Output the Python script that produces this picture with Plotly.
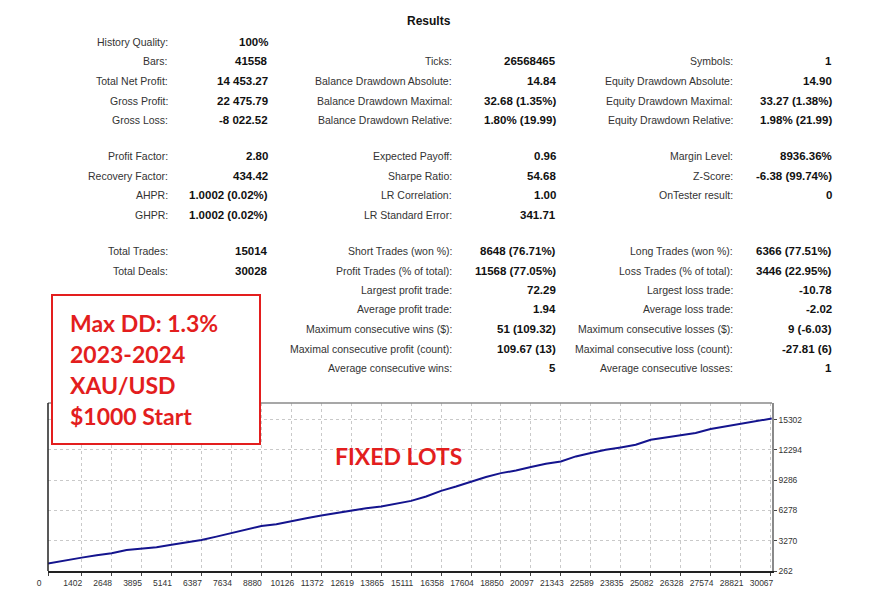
import plotly.graph_objects as go

# Balance curve (deal number -> balance)
deals = [0, 701, 1402, 2025, 2648, 3272, 3895, 4518, 5141, 5764, 6387, 7010, 7634,
         8257, 8880, 9503, 10126, 10749, 11372, 11996, 12619, 13242, 13865, 14488,
         15111, 15735, 16358, 16981, 17604, 18227, 18850, 19474, 20097, 20720,
         21343, 21966, 22589, 23212, 23835, 24459, 25082, 25705, 26328, 26951,
         27574, 28198, 28821, 29444, 30067, 30120]
balance = [1000, 1330, 1590, 1830, 2025, 2350, 2480, 2620, 2880, 3080, 3350, 3680, 4020,
           4350, 4740, 4910, 5240, 5510, 5770, 6010, 6270, 6510, 6670, 6935,
           7230, 7665, 8230, 8660, 9160, 9600, 9990, 10250, 10590, 10920,
           11150, 11650, 11980, 12310, 12545, 12810, 13310, 13540, 13810, 13980,
           14380, 14635, 14830, 15130, 15330, 15420]

x_ticks = [0, 1402, 2648, 3895, 5141, 6387, 7634, 8880, 10126, 11372, 12619, 13865,
           15111, 16358, 17604, 18850, 20097, 21343, 22589, 23835, 25082, 26328,
           27574, 28821, 30067]
y_ticks = [262, 3270, 6278, 9286, 12294, 15302]

# Results table, three columns of label/value pairs ("" = empty row)
col1_labels = ["History Quality:", "Bars:", "Total Net Profit:", "Gross Profit:", "Gross Loss:",
               "Profit Factor:", "Recovery Factor:", "AHPR:", "GHPR:", "",
               "Total Trades:", "Total Deals:", "", "", "", "", ""]
col1_values = ["100%", "41558", "14 453.27", "22 475.79", "-8 022.52",
               "2.80", "434.42", "1.0002 (0.02%)", "1.0002 (0.02%)", "",
               "15014", "30028", "", "", "", "", ""]
col2_labels = ["", "Ticks:", "Balance Drawdown Absolute:", "Balance Drawdown Maximal:",
               "Balance Drawdown Relative:",
               "Expected Payoff:", "Sharpe Ratio:", "LR Correlation:", "LR Standard Error:", "",
               "Short Trades (won %):", "Profit Trades (% of total):", "Largest profit trade:",
               "Average profit trade:", "Maximum consecutive wins ($):",
               "Maximal consecutive profit (count):", "Average consecutive wins:"]
col2_values = ["", "26568465", "14.84", "32.68 (1.35%)", "1.80% (19.99)",
               "0.96", "54.68", "1.00", "341.71", "",
               "8648 (76.71%)", "11568 (77.05%)", "72.29", "1.94", "51 (109.32)",
               "109.67 (13)", "5"]
col3_labels = ["", "Symbols:", "Equity Drawdown Absolute:", "Equity Drawdown Maximal:",
               "Equity Drawdown Relative:",
               "Margin Level:", "Z-Score:", "OnTester result:", "", "",
               "Long Trades (won %):", "Loss Trades (% of total):", "Largest loss trade:",
               "Average loss trade:", "Maximum consecutive losses ($):",
               "Maximal consecutive loss (count):", "Average consecutive losses:"]
col3_values = ["", "1", "14.90", "33.27 (1.38%)", "1.98% (21.99)",
               "8936.36%", "-6.38 (99.74%)", "0", "", "",
               "6366 (77.51%)", "3446 (22.95%)", "-10.78", "-2.02", "9 (-6.03)",
               "-27.81 (6)", "1"]

box_lines = ["Max DD: 1.3%", "2023-2024", "XAU/USD", "$1000 Start"]

W, H = 872, 600
OFF = 8  # page body margin
RED = "#e31e1e"

fig = go.Figure()
fig.add_trace(go.Scatter(x=deals, y=balance, mode="lines",
                         line=dict(color="#14148e", width=2), showlegend=False,
                         hoverinfo="skip"))


def px(x):
    return (x - OFF) / W


def py(y):
    return 1 - (y - OFF) / H


# row y-positions: three blocks separated by a wider gap
def row_y(i):
    if i < 5:
        return 42 + 19.5 * i
    if i < 10:
        return 156 + 19.5 * (i - 5)
    return 251 + 19.5 * (i - 10)


annotations = [dict(text="<b>Results</b>", x=px(429), y=py(21), xref="paper", yref="paper",
                    xanchor="center", yanchor="middle", showarrow=False,
                    font=dict(family="Liberation Sans", size=12, color="#111"))]

columns = [(col1_labels, col1_values, 170, 270),
           (col2_labels, col2_values, 454, 558),
           (col3_labels, col3_values, 735, 834)]
for labels, values, lx, vx in columns:
    for i, (lab, val) in enumerate(zip(labels, values)):
        if lab:
            annotations.append(dict(text=lab, x=px(lx), y=py(row_y(i)), xref="paper", yref="paper",
                                    xanchor="right", yanchor="middle", showarrow=False,
                                    font=dict(family="Liberation Sans", size=10.5, color="#333")))
        if val:
            annotations.append(dict(text="<b>" + val + "</b>", x=px(vx), y=py(row_y(i)),
                                    xref="paper", yref="paper", xanchor="right", yanchor="middle",
                                    showarrow=False,
                                    font=dict(family="Liberation Sans", size=11.5, color="#111")))

for k, line in enumerate(box_lines):
    annotations.append(dict(text="<b>" + line + "</b>", x=px(68), y=py(323 + 31 * k),
                            xref="paper", yref="paper", xanchor="left", yanchor="middle",
                            showarrow=False, font=dict(family="Lato", size=23, color=RED)))

annotations.append(dict(text="<b>FIXED LOTS</b>", x=px(398), y=py(456), xref="paper", yref="paper",
                        xanchor="center", yanchor="middle", showarrow=False,
                        font=dict(family="Lato", size=23, color=RED)))

shapes = [
    # chart frame: left/bottom dark, top/right grey
    dict(type="line", xref="paper", yref="paper", x0=px(48), x1=px(772), y0=py(403), y1=py(403),
         line=dict(color="#8a8a8a", width=1.5)),
    dict(type="line", xref="paper", yref="paper", x0=px(48), x1=px(48), y0=py(403), y1=py(571),
         line=dict(color="#222", width=1.5)),
    # red note box
    dict(type="rect", xref="paper", yref="paper", x0=px(52), x1=px(260), y0=py(444), y1=py(295),
         line=dict(color=RED, width=2), fillcolor="white", layer="above"),
]

fig.update_layout(
    width=W, height=H,
    margin=dict(l=0, r=0, t=0, b=0, autoexpand=False),
    paper_bgcolor="white", plot_bgcolor="white",
    annotations=annotations, shapes=shapes,
    xaxis=dict(domain=[px(48), px(772)], range=[0, 30130], tickvals=x_ticks,
               ticktext=[str(v) for v in x_ticks], showgrid=True, gridcolor="#c9c9c9",
               griddash="3px,3px", gridwidth=1, zeroline=False, showline=True,
               linecolor="#222", linewidth=1.5, ticks="outside", ticklen=3, tickcolor="#444",
               tickfont=dict(family="Liberation Sans", size=8.5, color="#333"),
               ticklabelshift=-9, tickangle=0, fixedrange=True, automargin=False),
    yaxis=dict(domain=[py(571), py(403)], range=[262, 16960], side="right", tickvals=y_ticks,
               ticktext=[str(v) for v in y_ticks], showgrid=True, gridcolor="#c9c9c9",
               griddash="3px,3px", gridwidth=1, zeroline=False, showline=True,
               linecolor="#8a8a8a", linewidth=1.5, ticks="outside", ticklen=3, tickcolor="#444",
               tickfont=dict(family="Liberation Sans", size=8.5, color="#333"), fixedrange=True,
               automargin=False),
)

fig.write_html("out.html")
